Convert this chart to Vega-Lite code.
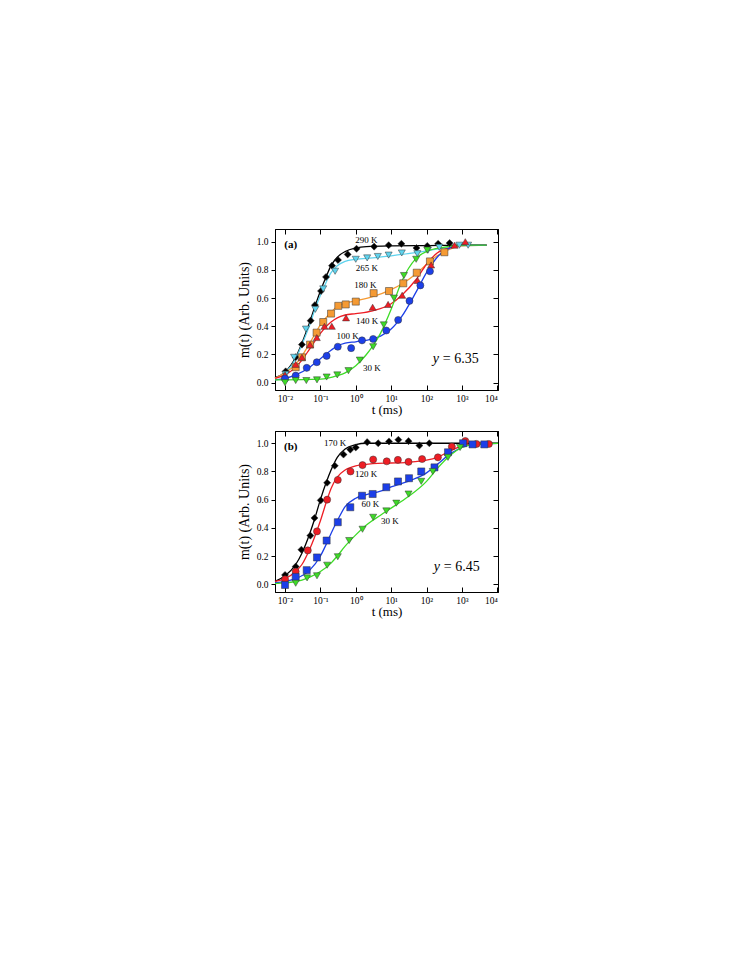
{
  "$schema": "https://vega.github.io/schema/vega-lite/v6.json",
  "autosize": {"type": "pad"},
  "padding": {"left": 236, "top": 228, "right": 5, "bottom": 5},
  "background": "white",
  "spacing": 13,
  "config": {
    "view": {"stroke": "black", "strokeWidth": 1},
    "axis": {"grid": false, "domainColor": "black", "tickColor": "black", "labelColor": "black", "titleColor": "black", "labelFont": "Liberation Serif", "titleFont": "Liberation Serif", "labelFontSize": 9.5, "titleFontSize": 14, "titleFontWeight": "normal", "domainWidth": 1, "tickWidth": 1},
    "text": {"font": "Liberation Serif"}
  },
  "datasets": {
    "pa": [
      {"s": "290 K", "t": 0.0104, "m": 0.08}, {"s": "290 K", "t": 0.02, "m": 0.18}, {"s": "290 K", "t": 0.03, "m": 0.27}, {"s": "290 K", "t": 0.053, "m": 0.44}, {"s": "290 K", "t": 0.07, "m": 0.55}, {"s": "290 K", "t": 0.104, "m": 0.65}, {"s": "290 K", "t": 0.144, "m": 0.75}, {"s": "290 K", "t": 0.213, "m": 0.83}, {"s": "290 K", "t": 0.314, "m": 0.87}, {"s": "290 K", "t": 0.59, "m": 0.91}, {"s": "290 K", "t": 1.05, "m": 0.95}, {"s": "290 K", "t": 3.3, "m": 0.965}, {"s": "290 K", "t": 8.5, "m": 0.975}, {"s": "290 K", "t": 19.5, "m": 0.985}, {"s": "290 K", "t": 52, "m": 0.955}, {"s": "290 K", "t": 105, "m": 0.97}, {"s": "290 K", "t": 213, "m": 0.985}, {"s": "290 K", "t": 450, "m": 0.99},
      {"s": "265 K", "t": 0.0104, "m": 0.06}, {"s": "265 K", "t": 0.018, "m": 0.18}, {"s": "265 K", "t": 0.039, "m": 0.38}, {"s": "265 K", "t": 0.072, "m": 0.52}, {"s": "265 K", "t": 0.12, "m": 0.665}, {"s": "265 K", "t": 0.26, "m": 0.79}, {"s": "265 K", "t": 1.0, "m": 0.875}, {"s": "265 K", "t": 2.1, "m": 0.885}, {"s": "265 K", "t": 4.2, "m": 0.895}, {"s": "265 K", "t": 8.5, "m": 0.905}, {"s": "265 K", "t": 20, "m": 0.92}, {"s": "265 K", "t": 55, "m": 0.915}, {"s": "265 K", "t": 110, "m": 0.94}, {"s": "265 K", "t": 230, "m": 0.96}, {"s": "265 K", "t": 850, "m": 0.975}, {"s": "265 K", "t": 1500, "m": 0.975},
      {"s": "180 K", "t": 0.02, "m": 0.11}, {"s": "180 K", "t": 0.03, "m": 0.18}, {"s": "180 K", "t": 0.051, "m": 0.27}, {"s": "180 K", "t": 0.078, "m": 0.355}, {"s": "180 K", "t": 0.12, "m": 0.43}, {"s": "180 K", "t": 0.2, "m": 0.49}, {"s": "180 K", "t": 0.32, "m": 0.545}, {"s": "180 K", "t": 0.52, "m": 0.555}, {"s": "180 K", "t": 1.0, "m": 0.575}, {"s": "180 K", "t": 3.2, "m": 0.635}, {"s": "180 K", "t": 8.7, "m": 0.65}, {"s": "180 K", "t": 22, "m": 0.705}, {"s": "180 K", "t": 53, "m": 0.78}, {"s": "180 K", "t": 125, "m": 0.86}, {"s": "180 K", "t": 320, "m": 0.925},
      {"s": "140 K", "t": 0.01, "m": 0.055}, {"s": "140 K", "t": 0.02, "m": 0.13}, {"s": "140 K", "t": 0.03, "m": 0.18}, {"s": "140 K", "t": 0.051, "m": 0.27}, {"s": "140 K", "t": 0.079, "m": 0.32}, {"s": "140 K", "t": 0.13, "m": 0.4}, {"s": "140 K", "t": 0.21, "m": 0.4}, {"s": "140 K", "t": 0.53, "m": 0.46}, {"s": "140 K", "t": 3.0, "m": 0.535}, {"s": "140 K", "t": 8.2, "m": 0.555}, {"s": "140 K", "t": 20.5, "m": 0.62}, {"s": "140 K", "t": 56, "m": 0.725}, {"s": "140 K", "t": 135, "m": 0.835}, {"s": "140 K", "t": 620, "m": 0.975}, {"s": "140 K", "t": 1250, "m": 1.0},
      {"s": "100 K", "t": 0.01, "m": 0.03}, {"s": "100 K", "t": 0.02, "m": 0.05}, {"s": "100 K", "t": 0.041, "m": 0.105}, {"s": "100 K", "t": 0.079, "m": 0.145}, {"s": "100 K", "t": 0.15, "m": 0.19}, {"s": "100 K", "t": 0.31, "m": 0.255}, {"s": "100 K", "t": 0.74, "m": 0.245}, {"s": "100 K", "t": 1.5, "m": 0.3}, {"s": "100 K", "t": 3.1, "m": 0.31}, {"s": "100 K", "t": 7.3, "m": 0.37}, {"s": "100 K", "t": 15.8, "m": 0.445}, {"s": "100 K", "t": 33, "m": 0.58}, {"s": "100 K", "t": 67, "m": 0.69}, {"s": "100 K", "t": 125, "m": 0.79},
      {"s": "30 K", "t": 0.01, "m": 0.0}, {"s": "30 K", "t": 0.02, "m": 0.015}, {"s": "30 K", "t": 0.04, "m": 0.015}, {"s": "30 K", "t": 0.08, "m": 0.02}, {"s": "30 K", "t": 0.15, "m": 0.04}, {"s": "30 K", "t": 0.3, "m": 0.055}, {"s": "30 K", "t": 0.62, "m": 0.085}, {"s": "30 K", "t": 1.3, "m": 0.16}, {"s": "30 K", "t": 3.1, "m": 0.255}, {"s": "30 K", "t": 6.2, "m": 0.41}, {"s": "30 K", "t": 12, "m": 0.6}, {"s": "30 K", "t": 23, "m": 0.76}, {"s": "30 K", "t": 51, "m": 0.875}, {"s": "30 K", "t": 105, "m": 0.94}
    ],
    "la": [
      {"s": "290 K", "t": 0.0052, "m": 0.035}, {"s": "290 K", "t": 0.01, "m": 0.075}, {"s": "290 K", "t": 0.02, "m": 0.18}, {"s": "290 K", "t": 0.03, "m": 0.28}, {"s": "290 K", "t": 0.05, "m": 0.43}, {"s": "290 K", "t": 0.07, "m": 0.54}, {"s": "290 K", "t": 0.1, "m": 0.65}, {"s": "290 K", "t": 0.15, "m": 0.76}, {"s": "290 K", "t": 0.2, "m": 0.83}, {"s": "290 K", "t": 0.3, "m": 0.89}, {"s": "290 K", "t": 0.5, "m": 0.93}, {"s": "290 K", "t": 1, "m": 0.955}, {"s": "290 K", "t": 2, "m": 0.965}, {"s": "290 K", "t": 10, "m": 0.97}, {"s": "290 K", "t": 100, "m": 0.972}, {"s": "290 K", "t": 1000, "m": 0.975}, {"s": "290 K", "t": 5000, "m": 0.975},
      {"s": "265 K", "t": 0.0052, "m": 0.03}, {"s": "265 K", "t": 0.01, "m": 0.07}, {"s": "265 K", "t": 0.02, "m": 0.17}, {"s": "265 K", "t": 0.03, "m": 0.27}, {"s": "265 K", "t": 0.05, "m": 0.41}, {"s": "265 K", "t": 0.07, "m": 0.52}, {"s": "265 K", "t": 0.1, "m": 0.62}, {"s": "265 K", "t": 0.15, "m": 0.72}, {"s": "265 K", "t": 0.2, "m": 0.78}, {"s": "265 K", "t": 0.3, "m": 0.83}, {"s": "265 K", "t": 0.5, "m": 0.86}, {"s": "265 K", "t": 1, "m": 0.875}, {"s": "265 K", "t": 3, "m": 0.885}, {"s": "265 K", "t": 10, "m": 0.9}, {"s": "265 K", "t": 30, "m": 0.915}, {"s": "265 K", "t": 100, "m": 0.935}, {"s": "265 K", "t": 300, "m": 0.955}, {"s": "265 K", "t": 1000, "m": 0.97}, {"s": "265 K", "t": 5000, "m": 0.975},
      {"s": "180 K", "t": 0.0052, "m": 0.03}, {"s": "180 K", "t": 0.01, "m": 0.07}, {"s": "180 K", "t": 0.02, "m": 0.13}, {"s": "180 K", "t": 0.03, "m": 0.19}, {"s": "180 K", "t": 0.05, "m": 0.28}, {"s": "180 K", "t": 0.1, "m": 0.41}, {"s": "180 K", "t": 0.2, "m": 0.5}, {"s": "180 K", "t": 0.3, "m": 0.54}, {"s": "180 K", "t": 0.5, "m": 0.565}, {"s": "180 K", "t": 1, "m": 0.58}, {"s": "180 K", "t": 3, "m": 0.61}, {"s": "180 K", "t": 10, "m": 0.66}, {"s": "180 K", "t": 20, "m": 0.7}, {"s": "180 K", "t": 50, "m": 0.77}, {"s": "180 K", "t": 100, "m": 0.84}, {"s": "180 K", "t": 200, "m": 0.9}, {"s": "180 K", "t": 500, "m": 0.95}, {"s": "180 K", "t": 1000, "m": 0.97}, {"s": "180 K", "t": 5000, "m": 0.975},
      {"s": "140 K", "t": 0.0052, "m": 0.03}, {"s": "140 K", "t": 0.01, "m": 0.055}, {"s": "140 K", "t": 0.02, "m": 0.11}, {"s": "140 K", "t": 0.03, "m": 0.16}, {"s": "140 K", "t": 0.05, "m": 0.24}, {"s": "140 K", "t": 0.1, "m": 0.35}, {"s": "140 K", "t": 0.2, "m": 0.43}, {"s": "140 K", "t": 0.3, "m": 0.46}, {"s": "140 K", "t": 0.5, "m": 0.48}, {"s": "140 K", "t": 1, "m": 0.49}, {"s": "140 K", "t": 3, "m": 0.51}, {"s": "140 K", "t": 10, "m": 0.56}, {"s": "140 K", "t": 20, "m": 0.62}, {"s": "140 K", "t": 50, "m": 0.73}, {"s": "140 K", "t": 100, "m": 0.84}, {"s": "140 K", "t": 200, "m": 0.92}, {"s": "140 K", "t": 500, "m": 0.96}, {"s": "140 K", "t": 1000, "m": 0.975}, {"s": "140 K", "t": 5000, "m": 0.975},
      {"s": "100 K", "t": 0.0052, "m": 0.02}, {"s": "100 K", "t": 0.01, "m": 0.03}, {"s": "100 K", "t": 0.02, "m": 0.055}, {"s": "100 K", "t": 0.05, "m": 0.11}, {"s": "100 K", "t": 0.1, "m": 0.17}, {"s": "100 K", "t": 0.2, "m": 0.23}, {"s": "100 K", "t": 0.3, "m": 0.26}, {"s": "100 K", "t": 0.5, "m": 0.28}, {"s": "100 K", "t": 1, "m": 0.29}, {"s": "100 K", "t": 3, "m": 0.31}, {"s": "100 K", "t": 5, "m": 0.33}, {"s": "100 K", "t": 10, "m": 0.38}, {"s": "100 K", "t": 20, "m": 0.47}, {"s": "100 K", "t": 50, "m": 0.64}, {"s": "100 K", "t": 100, "m": 0.78}, {"s": "100 K", "t": 200, "m": 0.89}, {"s": "100 K", "t": 500, "m": 0.96}, {"s": "100 K", "t": 1000, "m": 0.975}, {"s": "100 K", "t": 5000, "m": 0.975},
      {"s": "30 K", "t": 0.0052, "m": 0.02}, {"s": "30 K", "t": 0.01, "m": 0.02}, {"s": "30 K", "t": 0.1, "m": 0.025}, {"s": "30 K", "t": 0.3, "m": 0.05}, {"s": "30 K", "t": 0.5, "m": 0.07}, {"s": "30 K", "t": 1, "m": 0.12}, {"s": "30 K", "t": 2, "m": 0.2}, {"s": "30 K", "t": 3, "m": 0.26}, {"s": "30 K", "t": 5, "m": 0.35}, {"s": "30 K", "t": 10, "m": 0.52}, {"s": "30 K", "t": 20, "m": 0.72}, {"s": "30 K", "t": 50, "m": 0.88}, {"s": "30 K", "t": 100, "m": 0.93}, {"s": "30 K", "t": 300, "m": 0.96}, {"s": "30 K", "t": 1000, "m": 0.975}, {"s": "30 K", "t": 5000, "m": 0.975}
    ],
    "ta": [
      {"label": "290 K", "t": 1.98, "m": 1.01}, {"label": "265 K", "t": 2.07, "m": 0.81}, {"label": "180 K", "t": 1.86, "m": 0.69}, {"label": "140 K", "t": 2.09, "m": 0.44}, {"label": "100 K", "t": 0.59, "m": 0.33}, {"label": "30 K", "t": 2.83, "m": 0.106}
    ],
    "pb": [
      {"s": "170 K", "t": 0.01, "m": 0.066}, {"s": "170 K", "t": 0.02, "m": 0.125}, {"s": "170 K", "t": 0.029, "m": 0.245}, {"s": "170 K", "t": 0.052, "m": 0.345}, {"s": "170 K", "t": 0.068, "m": 0.47}, {"s": "170 K", "t": 0.102, "m": 0.595}, {"s": "170 K", "t": 0.155, "m": 0.72}, {"s": "170 K", "t": 0.255, "m": 0.84}, {"s": "170 K", "t": 0.45, "m": 0.92}, {"s": "170 K", "t": 0.7, "m": 0.955}, {"s": "170 K", "t": 1.0, "m": 0.97}, {"s": "170 K", "t": 2.1, "m": 1.008}, {"s": "170 K", "t": 4.3, "m": 1.0}, {"s": "170 K", "t": 8.7, "m": 1.013}, {"s": "170 K", "t": 16, "m": 1.025}, {"s": "170 K", "t": 31, "m": 1.015}, {"s": "170 K", "t": 63, "m": 0.984}, {"s": "170 K", "t": 120, "m": 1.0},
      {"s": "120 K", "t": 0.01, "m": 0.035}, {"s": "120 K", "t": 0.02, "m": 0.09}, {"s": "120 K", "t": 0.044, "m": 0.24}, {"s": "120 K", "t": 0.08, "m": 0.375}, {"s": "120 K", "t": 0.155, "m": 0.6}, {"s": "120 K", "t": 0.31, "m": 0.74}, {"s": "120 K", "t": 0.71, "m": 0.8}, {"s": "120 K", "t": 1.55, "m": 0.845}, {"s": "120 K", "t": 3.1, "m": 0.885}, {"s": "120 K", "t": 7.5, "m": 0.872}, {"s": "120 K", "t": 15.5, "m": 0.882}, {"s": "120 K", "t": 31, "m": 0.868}, {"s": "120 K", "t": 75, "m": 0.888}, {"s": "120 K", "t": 210, "m": 0.9}, {"s": "120 K", "t": 520, "m": 0.976}, {"s": "120 K", "t": 1250, "m": 1.016}, {"s": "120 K", "t": 2600, "m": 0.995}, {"s": "120 K", "t": 5800, "m": 0.995},
      {"s": "60 K", "t": 0.01, "m": -0.005}, {"s": "60 K", "t": 0.02, "m": 0.052}, {"s": "60 K", "t": 0.041, "m": 0.1}, {"s": "60 K", "t": 0.08, "m": 0.19}, {"s": "60 K", "t": 0.15, "m": 0.31}, {"s": "60 K", "t": 0.31, "m": 0.44}, {"s": "60 K", "t": 0.7, "m": 0.546}, {"s": "60 K", "t": 1.5, "m": 0.628}, {"s": "60 K", "t": 3.0, "m": 0.64}, {"s": "60 K", "t": 7.3, "m": 0.688}, {"s": "60 K", "t": 15.6, "m": 0.729}, {"s": "60 K", "t": 32, "m": 0.752}, {"s": "60 K", "t": 71, "m": 0.8}, {"s": "60 K", "t": 168, "m": 0.829}, {"s": "60 K", "t": 405, "m": 0.936}, {"s": "60 K", "t": 1080, "m": 1.0}, {"s": "60 K", "t": 2000, "m": 0.992}, {"s": "60 K", "t": 4300, "m": 0.992},
      {"s": "30 K", "t": 0.02, "m": 0.007}, {"s": "30 K", "t": 0.042, "m": 0.045}, {"s": "30 K", "t": 0.08, "m": 0.06}, {"s": "30 K", "t": 0.155, "m": 0.135}, {"s": "30 K", "t": 0.31, "m": 0.195}, {"s": "30 K", "t": 0.65, "m": 0.31}, {"s": "30 K", "t": 1.55, "m": 0.39}, {"s": "30 K", "t": 3.1, "m": 0.475}, {"s": "30 K", "t": 7.3, "m": 0.52}, {"s": "30 K", "t": 14, "m": 0.575}, {"s": "30 K", "t": 31, "m": 0.64}, {"s": "30 K", "t": 71, "m": 0.73}, {"s": "30 K", "t": 150, "m": 0.8}, {"s": "30 K", "t": 405, "m": 0.9}, {"s": "30 K", "t": 890, "m": 0.97}
    ],
    "lb": [
      {"s": "170 K", "t": 0.0052, "m": 0.02}, {"s": "170 K", "t": 0.01, "m": 0.06}, {"s": "170 K", "t": 0.02, "m": 0.14}, {"s": "170 K", "t": 0.03, "m": 0.22}, {"s": "170 K", "t": 0.05, "m": 0.36}, {"s": "170 K", "t": 0.07, "m": 0.47}, {"s": "170 K", "t": 0.1, "m": 0.6}, {"s": "170 K", "t": 0.15, "m": 0.73}, {"s": "170 K", "t": 0.2, "m": 0.81}, {"s": "170 K", "t": 0.3, "m": 0.9}, {"s": "170 K", "t": 0.5, "m": 0.96}, {"s": "170 K", "t": 1, "m": 0.99}, {"s": "170 K", "t": 2, "m": 1.0}, {"s": "170 K", "t": 10500, "m": 1.0},
      {"s": "120 K", "t": 0.0052, "m": 0.02}, {"s": "120 K", "t": 0.01, "m": 0.04}, {"s": "120 K", "t": 0.02, "m": 0.09}, {"s": "120 K", "t": 0.03, "m": 0.14}, {"s": "120 K", "t": 0.05, "m": 0.25}, {"s": "120 K", "t": 0.1, "m": 0.45}, {"s": "120 K", "t": 0.15, "m": 0.59}, {"s": "120 K", "t": 0.2, "m": 0.68}, {"s": "120 K", "t": 0.3, "m": 0.76}, {"s": "120 K", "t": 0.5, "m": 0.81}, {"s": "120 K", "t": 1, "m": 0.84}, {"s": "120 K", "t": 3, "m": 0.855}, {"s": "120 K", "t": 10, "m": 0.86}, {"s": "120 K", "t": 30, "m": 0.865}, {"s": "120 K", "t": 100, "m": 0.88}, {"s": "120 K", "t": 200, "m": 0.9}, {"s": "120 K", "t": 500, "m": 0.95}, {"s": "120 K", "t": 1000, "m": 0.98}, {"s": "120 K", "t": 3000, "m": 1.0}, {"s": "120 K", "t": 10500, "m": 1.0},
      {"s": "60 K", "t": 0.0052, "m": 0.01}, {"s": "60 K", "t": 0.01, "m": 0.02}, {"s": "60 K", "t": 0.02, "m": 0.04}, {"s": "60 K", "t": 0.05, "m": 0.1}, {"s": "60 K", "t": 0.1, "m": 0.2}, {"s": "60 K", "t": 0.15, "m": 0.29}, {"s": "60 K", "t": 0.2, "m": 0.36}, {"s": "60 K", "t": 0.3, "m": 0.45}, {"s": "60 K", "t": 0.5, "m": 0.55}, {"s": "60 K", "t": 1, "m": 0.61}, {"s": "60 K", "t": 2, "m": 0.635}, {"s": "60 K", "t": 5, "m": 0.66}, {"s": "60 K", "t": 10, "m": 0.69}, {"s": "60 K", "t": 30, "m": 0.73}, {"s": "60 K", "t": 100, "m": 0.79}, {"s": "60 K", "t": 200, "m": 0.85}, {"s": "60 K", "t": 500, "m": 0.93}, {"s": "60 K", "t": 1000, "m": 0.97}, {"s": "60 K", "t": 2000, "m": 0.99}, {"s": "60 K", "t": 10500, "m": 1.0},
      {"s": "30 K", "t": 0.0052, "m": 0.005}, {"s": "30 K", "t": 0.01, "m": 0.01}, {"s": "30 K", "t": 0.03, "m": 0.03}, {"s": "30 K", "t": 0.05, "m": 0.05}, {"s": "30 K", "t": 0.1, "m": 0.09}, {"s": "30 K", "t": 0.2, "m": 0.15}, {"s": "30 K", "t": 0.3, "m": 0.2}, {"s": "30 K", "t": 0.5, "m": 0.27}, {"s": "30 K", "t": 1, "m": 0.35}, {"s": "30 K", "t": 2, "m": 0.42}, {"s": "30 K", "t": 5, "m": 0.49}, {"s": "30 K", "t": 10, "m": 0.54}, {"s": "30 K", "t": 30, "m": 0.62}, {"s": "30 K", "t": 100, "m": 0.73}, {"s": "30 K", "t": 200, "m": 0.82}, {"s": "30 K", "t": 500, "m": 0.92}, {"s": "30 K", "t": 1000, "m": 0.97}, {"s": "30 K", "t": 2000, "m": 0.99}, {"s": "30 K", "t": 10500, "m": 1.0}
    ],
    "tb": [
      {"label": "170 K", "t": 0.26, "m": 1.0}, {"label": "120 K", "t": 1.95, "m": 0.78}, {"label": "60 K", "t": 2.57, "m": 0.57}, {"label": "30 K", "t": 9.25, "m": 0.45}
    ],
    "ya": [{"t": 150, "m": 0.17}],
    "yb": [{"t": 160, "m": 0.125}],
    "pla": [{"label": "(a)", "t": 0.0145, "m": 0.975}],
    "plb": [{"label": "(b)", "t": 0.0145, "m": 0.97}]
  },
  "vconcat": [
    {
      "width": 223, "height": 161,
      "layer": [
        {
          "data": {"name": "la"},
          "mark": {"type": "line", "interpolate": "monotone", "strokeWidth": 1.3},
          "encoding": {
            "x": {"field": "t", "type": "quantitative", "scale": {"type": "log", "domain": [0.0052, 10500], "nice": false}, "axis": {"orient": "bottom", "values": [0.01, 0.1, 1, 10, 100, 1000, 10000], "labelExpr": "datum.value < 0.05 ? '10⁻²' : datum.value < 0.5 ? '10⁻¹' : datum.value < 5 ? '10⁰' : datum.value < 50 ? '10¹' : datum.value < 500 ? '10²' : datum.value < 5000 ? '10³' : '10⁴'", "tickSize": -5, "labelPadding": 8, "title": "t (ms)", "titlePadding": 1, "titleFontSize": 13}},
            "y": {"field": "m", "type": "quantitative", "scale": {"domain": [-0.052, 1.09], "nice": false, "zero": false}, "axis": {"orient": "left", "values": [0, 0.2, 0.4, 0.6, 0.8, 1.0], "format": ".1f", "tickSize": 4, "labelPadding": 3, "title": "m(t) (Arb. Units)", "titlePadding": 5}},
            "color": {"field": "s", "type": "nominal", "legend": null, "scale": {"domain": ["290 K", "265 K", "180 K", "140 K", "100 K", "30 K", "170 K", "120 K", "60 K"], "range": ["#000000", "#5fd3ee", "#f59a33", "#ee1d24", "#1c3fe8", "#3ddc26", "#000000", "#ee1d24", "#1c3fe8"]}},
            "detail": {"field": "s"}
          }
        },
        {
          "data": {"name": "pa"},
          "mark": {"type": "point", "filled": true, "opacity": 1, "stroke": "#333333", "strokeWidth": 0.5, "size": 50},
          "encoding": {
            "x": {"field": "t", "type": "quantitative", "axis": {"orient": "top", "values": [0.01, 0.1, 1, 10, 100, 1000, 10000], "labels": false, "tickSize": -5, "title": null}},
            "y": {"field": "m", "type": "quantitative", "axis": {"orient": "right", "values": [0, 0.2, 0.4, 0.6, 0.8, 1.0], "labels": false, "tickSize": -5, "title": null}},
            "color": {"field": "s", "type": "nominal", "legend": null},
            "shape": {"field": "s", "type": "nominal", "legend": null, "scale": {"domain": ["290 K", "265 K", "180 K", "140 K", "100 K", "30 K", "170 K", "120 K", "60 K"], "range": ["diamond", "triangle-down", "square", "triangle-up", "circle", "triangle-down", "diamond", "circle", "square"]}}
          }
        },
        {
          "data": {"name": "ta"},
          "mark": {"type": "text", "fontSize": 9, "align": "center", "baseline": "middle", "color": "black"},
          "encoding": {"x": {"field": "t", "type": "quantitative", "axis": null}, "y": {"field": "m", "type": "quantitative", "axis": null}, "text": {"field": "label"}}
        },
        {
          "data": {"name": "ya"},
          "mark": {"type": "text", "fontSize": 14, "fontStyle": "italic", "align": "left", "baseline": "middle", "color": "black", "text": "y"},
          "encoding": {"x": {"field": "t", "type": "quantitative", "axis": null}, "y": {"field": "m", "type": "quantitative", "axis": null}}
        },
        {
          "data": {"name": "ya"},
          "mark": {"type": "text", "fontSize": 14, "align": "left", "baseline": "middle", "color": "black", "text": "= 6.35", "dx": 10},
          "encoding": {"x": {"field": "t", "type": "quantitative", "axis": null}, "y": {"field": "m", "type": "quantitative", "axis": null}}
        },
        {
          "data": {"name": "pla"},
          "mark": {"type": "text", "fontSize": 11, "fontWeight": "bold", "align": "center", "baseline": "middle", "color": "black"},
          "encoding": {"x": {"field": "t", "type": "quantitative", "axis": null}, "y": {"field": "m", "type": "quantitative", "axis": null}, "text": {"field": "label"}}
        }
      ],
      "resolve": {"axis": {"x": "independent", "y": "independent"}}
    },
    {
      "width": 223, "height": 161,
      "layer": [
        {
          "data": {"name": "lb"},
          "mark": {"type": "line", "interpolate": "monotone", "strokeWidth": 1.3},
          "encoding": {
            "x": {"field": "t", "type": "quantitative", "scale": {"type": "log", "domain": [0.0052, 10500], "nice": false}, "axis": {"orient": "bottom", "values": [0.01, 0.1, 1, 10, 100, 1000, 10000], "labelExpr": "datum.value < 0.05 ? '10⁻²' : datum.value < 0.5 ? '10⁻¹' : datum.value < 5 ? '10⁰' : datum.value < 50 ? '10¹' : datum.value < 500 ? '10²' : datum.value < 5000 ? '10³' : '10⁴'", "tickSize": -5, "labelPadding": 8, "title": "t (ms)", "titlePadding": 1, "titleFontSize": 13}},
            "y": {"field": "m", "type": "quantitative", "scale": {"domain": [-0.055, 1.087], "nice": false, "zero": false}, "axis": {"orient": "left", "values": [0, 0.2, 0.4, 0.6, 0.8, 1.0], "format": ".1f", "tickSize": 4, "labelPadding": 3, "title": "m(t) (Arb. Units)", "titlePadding": 5}},
            "color": {"field": "s", "type": "nominal", "legend": null, "scale": {"domain": ["290 K", "265 K", "180 K", "140 K", "100 K", "30 K", "170 K", "120 K", "60 K"], "range": ["#000000", "#5fd3ee", "#f59a33", "#ee1d24", "#1c3fe8", "#3ddc26", "#000000", "#ee1d24", "#1c3fe8"]}},
            "detail": {"field": "s"}
          }
        },
        {
          "data": {"name": "pb"},
          "mark": {"type": "point", "filled": true, "opacity": 1, "stroke": "#333333", "strokeWidth": 0.5, "size": 50},
          "encoding": {
            "x": {"field": "t", "type": "quantitative", "axis": {"orient": "top", "values": [0.01, 0.1, 1, 10, 100, 1000, 10000], "labels": false, "tickSize": -5, "title": null}},
            "y": {"field": "m", "type": "quantitative", "axis": {"orient": "right", "values": [0, 0.2, 0.4, 0.6, 0.8, 1.0], "labels": false, "tickSize": -5, "title": null}},
            "color": {"field": "s", "type": "nominal", "legend": null},
            "shape": {"field": "s", "type": "nominal", "legend": null, "scale": {"domain": ["290 K", "265 K", "180 K", "140 K", "100 K", "30 K", "170 K", "120 K", "60 K"], "range": ["diamond", "triangle-down", "square", "triangle-up", "circle", "triangle-down", "diamond", "circle", "square"]}}
          }
        },
        {
          "data": {"name": "tb"},
          "mark": {"type": "text", "fontSize": 9, "align": "center", "baseline": "middle", "color": "black"},
          "encoding": {"x": {"field": "t", "type": "quantitative", "axis": null}, "y": {"field": "m", "type": "quantitative", "axis": null}, "text": {"field": "label"}}
        },
        {
          "data": {"name": "yb"},
          "mark": {"type": "text", "fontSize": 14, "fontStyle": "italic", "align": "left", "baseline": "middle", "color": "black", "text": "y"},
          "encoding": {"x": {"field": "t", "type": "quantitative", "axis": null}, "y": {"field": "m", "type": "quantitative", "axis": null}}
        },
        {
          "data": {"name": "yb"},
          "mark": {"type": "text", "fontSize": 14, "align": "left", "baseline": "middle", "color": "black", "text": "= 6.45", "dx": 10},
          "encoding": {"x": {"field": "t", "type": "quantitative", "axis": null}, "y": {"field": "m", "type": "quantitative", "axis": null}}
        },
        {
          "data": {"name": "plb"},
          "mark": {"type": "text", "fontSize": 11, "fontWeight": "bold", "align": "center", "baseline": "middle", "color": "black"},
          "encoding": {"x": {"field": "t", "type": "quantitative", "axis": null}, "y": {"field": "m", "type": "quantitative", "axis": null}, "text": {"field": "label"}}
        }
      ],
      "resolve": {"axis": {"x": "independent", "y": "independent"}}
    }
  ]
}
